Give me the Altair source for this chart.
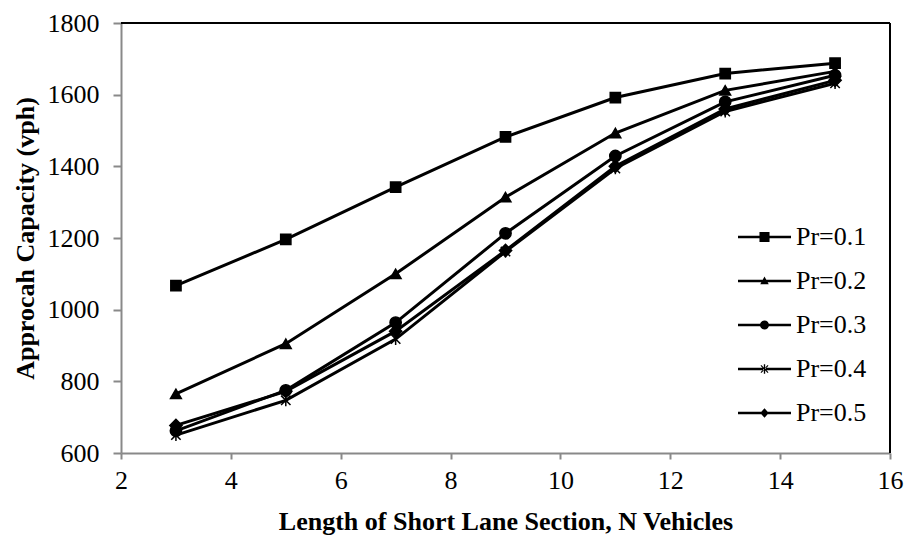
import altair as alt
import pandas as pd

# ---- data ----
N = [3, 5, 7, 9, 11, 13, 15]
series_labels = ["Pr=0.1", "Pr=0.2", "Pr=0.3", "Pr=0.4", "Pr=0.5"]
cap_pr01 = [1067, 1196, 1342, 1482, 1592, 1659, 1688]
cap_pr02 = [765, 905, 1100, 1314, 1493, 1612, 1665]
cap_pr03 = [662, 775, 964, 1213, 1429, 1580, 1654]
cap_pr04 = [650, 747, 918, 1162, 1394, 1553, 1632]
cap_pr05 = [677, 772, 940, 1165, 1400, 1560, 1640]
x_ticks = [2, 4, 6, 8, 10, 12, 14, 16]
y_ticks = [600, 800, 1000, 1200, 1400, 1600, 1800]

all_caps = [cap_pr01, cap_pr02, cap_pr03, cap_pr04, cap_pr05]
rows = []
for lab, caps in zip(series_labels, all_caps):
    for n, c in zip(N, caps):
        rows.append({"N": n, "cap": c, "series": lab})
df = pd.DataFrame(rows)

FONT = "Liberation Serif"
GRAY = "#898989"

star_path = "M-0.8,-0.8L0.8,0.8M-0.8,0.8L0.8,-0.8M0,-1L0,1"
point_shapes = ["square", "triangle-up", "circle", star_path, "diamond"]
point_sizes = [105, 150, 125, 120, 120]

# legend symbols: a filled thin bar (the line) plus a filled marker
LINE = "M-1,-0.05L1,-0.05L1,0.05L-1,0.05Z"
legend_paths = [
    LINE + "M-0.19,-0.19L0.19,-0.19L0.19,0.19L-0.19,0.19Z",
    LINE + "M0,-0.17L0.16,0.12L-0.16,0.12Z",
    LINE + "M0.17,0A0.17,0.17 0 1,1 -0.17,0A0.17,0.17 0 1,1 0.17,0Z",
    LINE
    + "M-0.15,-0.12L-0.12,-0.15L0.15,0.12L0.12,0.15Z"
    + "M-0.15,0.12L-0.12,0.15L0.15,-0.12L0.12,-0.15Z"
    + "M-0.025,-0.18L0.025,-0.18L0.025,0.18L-0.025,0.18Z",
    LINE + "M0,-0.18L0.16,0L0,0.18L-0.16,0Z",
]

x_enc = alt.X(
    "N:Q",
    scale=alt.Scale(domain=[x_ticks[0], x_ticks[-1]], nice=False, zero=False),
    axis=alt.Axis(
        values=x_ticks, format="d",
        title="Length of Short Lane Section, N Vehicles",
        titleFont=FONT, titleFontSize=26, titleFontWeight="bold", titleColor="black",
        titleY=68, titleBaseline="middle",
        labelFont=FONT, labelFontSize=26, labelColor="black", labelPadding=8,
        grid=False, domainColor=GRAY, domainWidth=2, tickColor=GRAY, tickWidth=2,
        tickSize=6, labelFlush=False,
    ),
)
y_enc = alt.Y(
    "cap:Q",
    scale=alt.Scale(domain=[y_ticks[0], y_ticks[-1]], nice=False, zero=False),
    axis=alt.Axis(
        values=y_ticks, format="d",
        title="Approcah Capacity (vph)",
        titleFont=FONT, titleFontSize=26, titleFontWeight="bold", titleColor="black",
        titleX=-96, titleBaseline="middle",
        labelFont=FONT, labelFontSize=26, labelColor="black", labelPadding=14,
        grid=False, domainColor=GRAY, domainWidth=2, tickColor=GRAY, tickWidth=2,
        tickSize=8, labelFlush=False,
    ),
)

base = alt.Chart(df)

lines = base.mark_line(color="black", strokeWidth=3).encode(
    x=x_enc, y=y_enc, detail="series:N", order="N:Q"
)

points = base.mark_point(
    filled=True, fill="black", stroke="black", strokeWidth=1.5, opacity=1
).encode(
    x="N:Q",
    y="cap:Q",
    shape=alt.Shape("series:N", scale=alt.Scale(domain=series_labels, range=point_shapes), legend=None),
    size=alt.Size("series:N", scale=alt.Scale(domain=series_labels, range=point_sizes), legend=None),
)

legend_layer = base.mark_point(
    filled=True, fill="black", opacity=0
).encode(
    x="N:Q",
    y="cap:Q",
    shape=alt.Shape(
        "series:N",
        scale=alt.Scale(domain=series_labels, range=legend_paths),
        legend=alt.Legend(
            title=None, orient="none", legendX=617, legendY=199, padding=0,
            symbolSize=2809, symbolStrokeWidth=0, symbolFillColor="black",
            symbolOpacity=1, clipHeight=30, rowPadding=14,
            labelFont=FONT, labelFontSize=26, labelColor="black", labelOffset=5,
        ),
    ),
)

one = pd.DataFrame({"k": [0]})
top_rule = alt.Chart(one).mark_rule(color="black", strokeWidth=2).encode(
    x=alt.datum(x_ticks[0]), x2=alt.datum(x_ticks[-1]), y=alt.datum(y_ticks[-1])
)
right_rule = alt.Chart(one).mark_rule(color="black", strokeWidth=2).encode(
    x=alt.datum(x_ticks[-1]), y=alt.datum(y_ticks[0]), y2=alt.datum(y_ticks[-1])
)

chart = (
    alt.layer(top_rule, right_rule, lines, points, legend_layer)
    .resolve_scale(shape="independent")
    .properties(
        width=769, height=430,
        autosize=alt.AutoSizeParams(type="none"),
        padding={"left": 121, "top": 23, "right": 18, "bottom": 84},
        background="white",
    )
    .configure(font=FONT)
    .configure_axis(labelFont=FONT, titleFont=FONT)
    .configure_legend(labelFont=FONT)
    .configure_view(strokeWidth=0)
)

chart.save("out.html", embed_options={"renderer": "svg", "actions": False})
